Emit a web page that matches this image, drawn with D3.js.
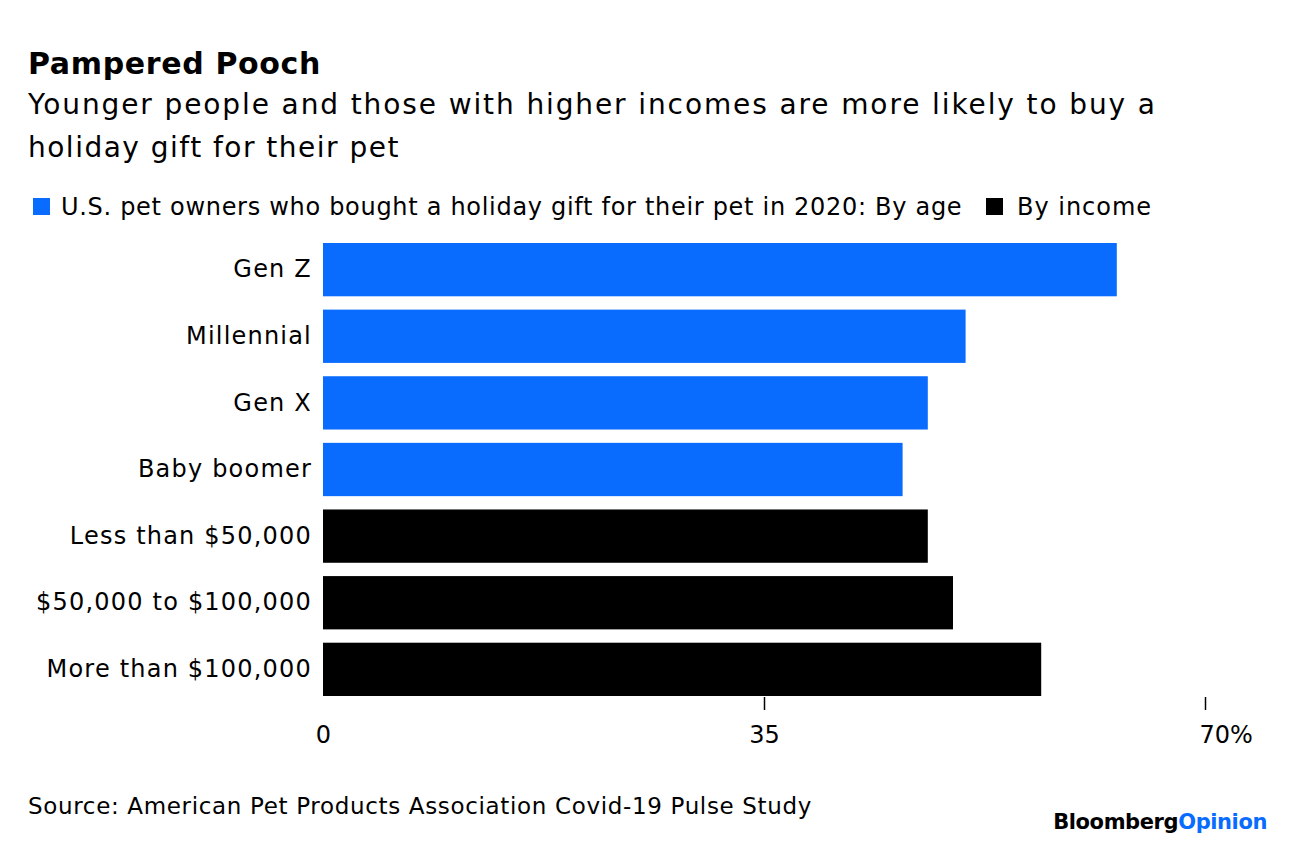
<!DOCTYPE html>
<html><head><meta charset="utf-8">
<script src="https://cdn.jsdelivr.net/npm/d3@7/dist/d3.min.js"></script>
<style>
body{margin:0;background:#fff;}
text{font-family:"DejaVu Sans",sans-serif;fill:#000;}
</style></head>
<body><svg id="c" width="1296" height="846"></svg>
<script>
const categories = ["Gen Z","Millennial","Gen X","Baby boomer","Less than $50,000","$50,000 to $100,000","More than $100,000"];
const values = [63,51,48,46,48,50,57];
const groups = ["age","age","age","age","income","income","income"];
const tickValues = [0,35,70];
const tickLabels = ["0","35","70%"];
const seriesNames = ["U.S. pet owners who bought a holiday gift for their pet in 2020: By age","By income"];
const colors = {age:"#0a6cff", income:"#000000"};

const svg = d3.select("#c");
const x = d3.scaleLinear().domain([0,70]).range([323,1205]);
const y = d3.scaleBand().domain(categories).range([243,696]).paddingInner(0.2).paddingOuter(0.0);
const FONT = "'DejaVu Sans',sans-serif";

// spread a text's letters so that it spans the given width
function fit(sel, w){
  const n = sel.text().length;
  const cur = sel.node().getComputedTextLength();
  sel.style("letter-spacing", ((w-cur)/n).toFixed(2)+"px");
  return sel;
}

fit(svg.append("text").attr("x",28).attr("y",74).attr("font-size",30).attr("font-weight","bold").text("Pampered Pooch"), 293);
fit(svg.append("text").attr("x",28).attr("y",114).attr("font-size",28).text("Younger people and those with higher incomes are more likely to buy a"), 1129);
fit(svg.append("text").attr("x",28).attr("y",157).attr("font-size",28).text("holiday gift for their pet"), 372);

svg.append("rect").attr("x",33).attr("y",198).attr("width",17).attr("height",17).attr("fill",colors.age);
fit(svg.append("text").attr("x",61).attr("y",215).attr("font-size",24).text(seriesNames[0]), 901);
svg.append("rect").attr("x",986).attr("y",198).attr("width",17).attr("height",17).attr("fill",colors.income);
fit(svg.append("text").attr("x",1017).attr("y",215).attr("font-size",24).text(seriesNames[1]), 135);

svg.append("g").selectAll("rect").data(categories).join("rect")
  .attr("x",x(0)).attr("y",d=>y(d)).attr("height",y.bandwidth())
  .attr("width",(d,i)=>x(values[i])-x(0)).attr("fill",(d,i)=>colors[groups[i]]);

const yAxis = d3.axisLeft(y).tickSize(0).tickPadding(11);
const gy = svg.append("g").attr("transform",`translate(${x(0)},0)`).call(yAxis);
gy.select(".domain").remove();
gy.selectAll("text").attr("font-size",24).attr("fill","#000").style("font-family",FONT).style("letter-spacing","1.2px");

const xAxis = d3.axisBottom(x).tickValues(tickValues).tickFormat((d,i)=>tickLabels[i]).tickSize(13).tickPadding(16);
const gx = svg.append("g").attr("transform","translate(0,697)").call(xAxis);
gx.select(".domain").remove();
gx.selectAll("line").attr("stroke","#000").attr("stroke-width",1.5).filter(d=>d===0).remove();
gx.selectAll("text").attr("font-size",24).attr("fill","#000").style("font-family",FONT);
gx.selectAll(".tick").filter(d=>d===70).select("text").attr("text-anchor","start").attr("x",-6);

fit(svg.append("text").attr("x",28).attr("y",814).attr("font-size",23).text("Source: American Pet Products Association Covid-19 Pulse Study"), 784);

const logo = svg.append("text").attr("x",1267).attr("y",829).attr("text-anchor","end").attr("font-size",21).attr("font-weight","bold").style("letter-spacing","-0.4px");
logo.append("tspan").text("Bloomberg");
logo.append("tspan").style("fill","#0a6cff").text("Opinion");
</script></body></html>
